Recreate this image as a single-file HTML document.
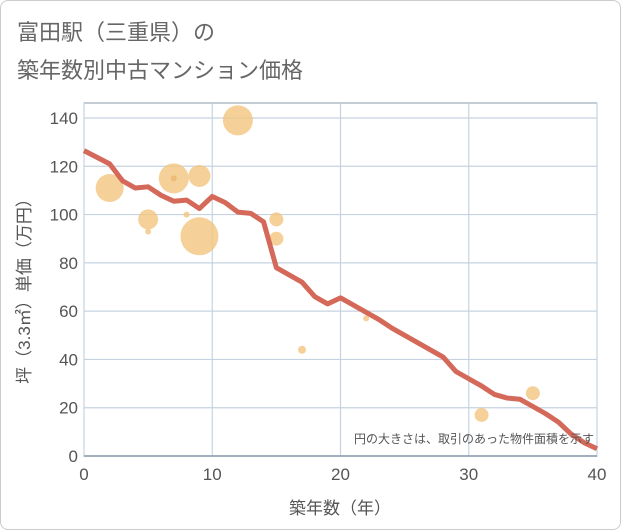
<!DOCTYPE html>
<html><head><meta charset="utf-8"><style>
body{margin:0;background:#fff;font-family:"Liberation Sans","Noto Sans CJK JP",sans-serif;}
.frame{position:absolute;left:0;top:0;width:619px;height:528px;border:1px solid #ccc;border-radius:8px;}
</style></head><body>
<div class="frame"></div>
<svg id="c" width="621" height="530" style="position:absolute;left:0;top:0" font-family="Liberation Sans, Noto Sans CJK JP, sans-serif">
<text x="17" y="40" font-size="22" fill="#666" font-family="Noto Sans CJK JP, sans-serif">富田駅（三重県）の</text>
<text x="17" y="78" font-size="22" fill="#666" font-family="Noto Sans CJK JP, sans-serif">築年数別中古マンション価格</text>
<g id="grid"></g><g id="bubbles"></g><g id="line"></g><g id="axes"></g>
<text x="594" y="443" font-size="12" fill="#555" text-anchor="end">円の大きさは、取引のあった物件面積を示す</text>
<text x="340" y="514" font-size="17" fill="#555" text-anchor="middle">築年数（年）</text>
<text transform="translate(30,287) rotate(-90)" font-size="17" fill="#555" text-anchor="middle">坪（3.3㎡）単価（万円）</text>
</svg>
<script>
const lineYears=[0,2,3,4,5,6,7,8,9,10,11,12,13,14,15,16,17,18,19,20,21,22,23,24,25,26,27,28,29,30,31,32,33,34,35,36,37,38,39,40];
const lineValues=[126.5,121,114,111,111.5,108,105.5,106,102.5,107.5,105,101,100.5,97,78,75,72,66,63,65.5,62.5,59.5,56.5,53,50,47,44,41,35,32,29,25.5,24,23.5,20.5,17.5,14,9,5.5,3];
const bubbleYears=[2,5,5,7,8,9,9,12,15,15,17,22,31,35,7];
const bubbleValues=[111,98,93,115,100,116,91,139,98,90,44,57,17,26,115];
const bubbleRadii=[14,10,3,15,3,11,19,15,7,7,4,3,7,7,3];
const xTicks=[0,10,20,30,40];
const yTicks=[0,20,40,60,80,100,120,140];
const L=84,R=597,T=103,B=456;
const sx=v=>L+(v/40)*(R-L);
const sy=v=>B-(v/140)*(B-118);
const NS="http://www.w3.org/2000/svg";
function mk(t,a,p){const e=document.createElementNS(NS,t);for(const k in a)e.setAttribute(k,a[k]);document.getElementById(p).appendChild(e);return e;}
let e=mk('rect',{x:L,y:T,width:R-L,height:B-T,fill:'none',stroke:'#8899aa','stroke-width':1},'grid');


yTicks.forEach(v=>{const g=mk('line',{x1:L,x2:R,y1:sy(v),y2:sy(v),stroke:'#c5d3e0','stroke-width':1.2},'grid');


const t=mk('text',{x:L-6,y:sy(v)+6,'font-size':17,fill:'#555','text-anchor':'end'},'axes');t.textContent=v;

});
xTicks.forEach(v=>{const g=mk('line',{x1:sx(v),x2:sx(v),y1:T,y2:B,stroke:'#c5d3e0','stroke-width':1.2},'grid');


const t=mk('text',{x:sx(v),y:B+24,'font-size':17,fill:'#555','text-anchor':'middle'},'axes');t.textContent=v;

});
const ax=mk('line',{x1:L,x2:R,y1:B,y2:B,stroke:'#8899aa','stroke-width':1.5},'axes');


bubbleYears.forEach((y,i)=>{const c=mk('circle',{cx:sx(y),cy:sy(bubbleValues[i]),r:bubbleRadii[i],fill:i==14?'#e8b86e':'#f3c680','fill-opacity':0.8},'bubbles');

});
const p=mk('polyline',{points:lineYears.map((y,i)=>sx(y)+','+sy(lineValues[i])).join(' '),fill:'none',stroke:'#d4695a','stroke-width':5,'stroke-linejoin':'round'},'line');


</script>
</body></html>
